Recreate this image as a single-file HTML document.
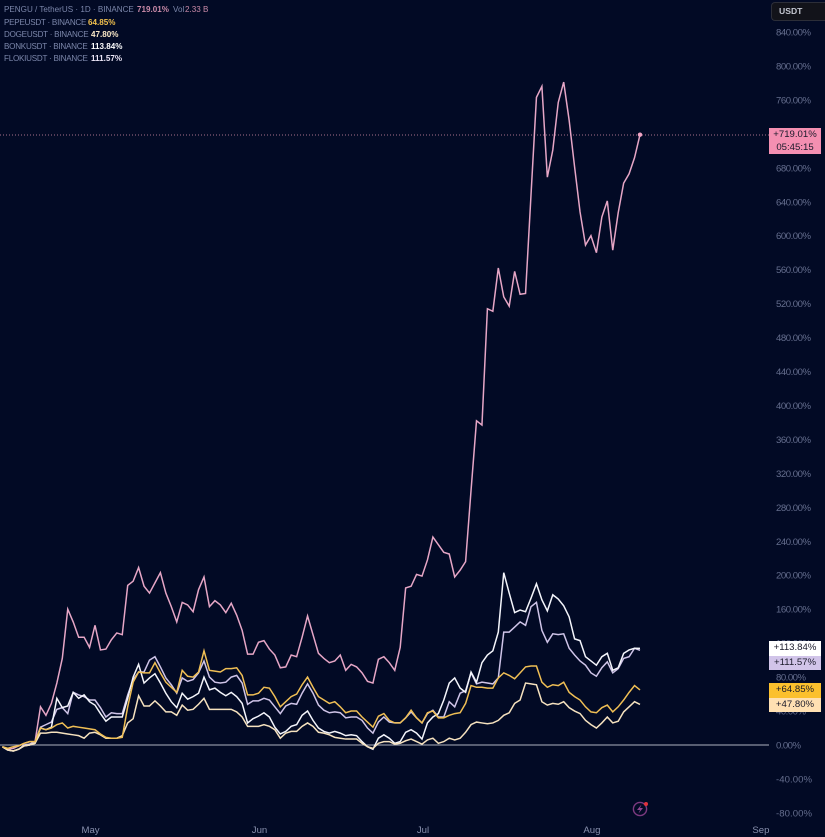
<!DOCTYPE html>
<html>
<head>
<meta charset="utf-8">
<title>PENGU comparison chart</title>
<style>
html,body{margin:0;padding:0;background:#020a25;}
#chart{position:relative;width:825px;height:837px;overflow:hidden;background:#020a25;font-family:"Liberation Sans",sans-serif;filter:blur(0.3px);}
svg{position:absolute;left:0;top:0;}
.lg{position:absolute;left:4px;font-size:8.1px;line-height:12px;height:12px;color:#7c87ab;white-space:nowrap;}
.lg.sub{letter-spacing:-0.25px;}
.lg b{position:absolute;top:0;font-weight:bold;letter-spacing:0;}
.tag{position:absolute;left:769px;width:52px;text-align:center;font-size:9.6px;color:#1a1a2a;line-height:14.5px;height:14.5px;}
#usdt{position:absolute;left:771px;top:2px;width:54px;height:19px;box-sizing:border-box;background:#12131a;border:1px solid #2c2e38;border-right:none;border-radius:4px 0 0 4px;color:#c4c7d2;font-size:8.6px;line-height:17px;padding-left:7px;font-weight:bold;}
</style>
</head>
<body>
<div id="chart">
  <svg id="plot" width="825" height="837" viewBox="0 0 825 837" xmlns="http://www.w3.org/2000/svg">
    <line x1="0" y1="745" x2="769" y2="745" stroke="#aeb1bf" stroke-width="1"></line>
    <line x1="0" y1="135" x2="769" y2="135" stroke="#a8708c" stroke-width="1" stroke-dasharray="1 2"></line>
    <g id="axis"></g>
    <g id="months"></g>
    <g id="series"></g>
    <g>
      <circle cx="640" cy="809" r="6.6" fill="none" stroke="#7d3a80" stroke-width="1.4"></circle>
      <polygon points="641.5,804.5 637,810 640,810 638.5,813.5 643,808 640,808" fill="#8d4590"></polygon>
      <circle cx="646" cy="804" r="2" fill="#e0323c"></circle>
    </g>
  </svg>

  <div class="lg" style="top:4px">PENGU / TetherUS · 1D · BINANCE<b style="left:133px;color:#c98aa8">719.01%</b><span style="position:absolute;left:169px;top:0;color:#7c87ab">Vol</span><b style="left:181px;color:#c98aa8;font-weight:normal">2.33 B</b></div>
  <div class="lg sub" style="top:17px">PEPEUSDT · BINANCE<b style="left:84px;color:#f2c14e">64.85%</b></div>
  <div class="lg sub" style="top:29px">DOGEUSDT · BINANCE<b style="left:87px;color:#fbe9c8">47.80%</b></div>
  <div class="lg sub" style="top:41px">BONKUSDT · BINANCE<b style="left:87px;color:#ffffff">113.84%</b></div>
  <div class="lg sub" style="top:53px">FLOKIUSDT · BINANCE<b style="left:87px;color:#ece6f7">111.57%</b></div>

  <div id="usdt">USDT</div>

  <div class="tag" style="top:128px;height:26px;background:#f48fb1;line-height:13px;padding-top:0">+719.01%<br>05:45:15</div>
  <div class="tag" style="top:641px;background:#ffffff">+113.84%</div>
  <div class="tag" style="top:655.5px;background:#d1c4e9">+111.57%</div>
  <div class="tag" style="top:683px;background:#fbc02d">+64.85%</div>
  <div class="tag" style="top:697.5px;background:#ffe0b2">+47.80%</div>
</div>

<script>
const tickValues = [840,800,760,720,680,640,600,560,520,480,440,400,360,320,280,240,200,160,120,80,40,0,-40,-80];
const monthLabels = ["May","Jun","Jul","Aug","Sep"];
const monthDayIndex = [16,47,77,108,139];

const penguValues = [-2,-5,-4,-1,2,4,4,45,35,49,73,102,160,145,127,127,115,141,112,113,124,132,130,188,193,209,187,179,191,203,179,163,145,168,165,157,183,198,163,170,165,156,167,153,135,107,107,121,123,113,106,91,92,106,104,127,152,130,108,102,97,99,106,88,95,92,85,75,73,101,104,97,88,115,185,187,201,199,218,245,236,227,225,198,206,216,300,382,377,514,511,562,528,517,558,531,532,648,763,776,669,701,757,781,736,681,628,589,600,580,622,641,583,627,662,673,692,719.01];
const pepeValues = [-2,-4,-2,-1,2,4,4,20,18,20,24,26,20,22,21,20,19,18,13,9,8,8,9,45,74,86,85,85,97,85,74,68,62,88,81,80,86,111,88,87,86,90,90,91,82,59,59,61,68,67,57,45,51,57,60,71,80,68,57,53,49,51,45,38,40,40,33,27,21,34,37,29,26,26,32,41,32,26,38,40,32,32,35,37,38,49,70,68,68,67,67,79,85,82,78,85,92,93,93,74,68,71,70,74,62,57,53,45,39,38,44,47,39,45,53,62,70,64.85];
const dogeValues = [-2,-6,-7,-5,-1,0,2,14,14,15,15,14,13,12,11,8,14,15,12,8,8,8,11,26,31,58,46,46,52,46,39,39,35,47,41,42,48,55,42,42,42,42,42,39,33,22,22,22,24,22,18,8,14,16,16,22,26,22,15,14,12,9,8,7,7,7,2,-2,-4,2,4,4,1,2,5,7,4,1,6,8,2,4,8,6,8,15,24,27,26,25,26,29,35,38,49,53,73,72,71,51,47,49,48,51,44,40,37,29,24,20,26,33,26,28,39,45,51,47.8];
const bonkValues = [-2,-6,-7,-5,-1,0,2,20,18,21,55,44,46,62,55,59,51,47,37,28,33,33,33,55,80,95,73,79,84,73,61,51,44,61,54,57,61,80,65,67,62,58,62,57,49,26,31,34,38,33,21,13,16,22,24,35,40,29,20,16,14,16,14,11,12,11,4,-2,-5,8,12,8,2,4,15,18,14,7,26,33,37,53,73,79,67,62,86,74,97,106,111,133,203,179,156,159,157,173,190,171,158,177,172,164,151,125,123,104,99,94,104,108,88,91,108,112,114,113.84];
const flokiValues = [-2,-6,-7,-5,0,1,4,21,24,27,42,44,37,62,59,57,53,53,44,33,38,37,37,59,77,86,86,100,104,92,79,71,61,79,75,77,85,99,80,74,73,74,80,82,73,48,52,52,55,53,45,37,46,49,48,61,72,61,47,41,38,39,38,32,33,33,29,20,14,27,33,27,26,26,32,39,32,26,37,41,33,33,51,45,61,64,85,72,74,73,72,79,133,133,139,145,141,163,168,135,121,131,130,131,114,106,99,94,85,81,91,98,85,90,102,104,114,111.57];

const SVGNS = "http://www.w3.org/2000/svg";
const zeroY = 745, pxPerPct = 0.8488, firstX = 2.35, pxPerDay = 5.45;
function yScale(v){ return zeroY - v * pxPerPct; }
function xScale(i){ return firstX + i * pxPerDay; }

function linePoints(values){
  return values.map(function(v,i){ return xScale(i).toFixed(2)+","+yScale(v).toFixed(2); }).join(" ");
}

const axisGroup = document.getElementById("axis");
tickValues.forEach(function(t){
  const el = document.createElementNS(SVGNS,"text");
  
  
  el.setAttribute("x", 776);
  el.setAttribute("y", yScale(t) + 3.5);
  el.setAttribute("fill", "#656e8e");
  el.setAttribute("font-size", "9.6");
  el.setAttribute("font-family", '"Liberation Sans", sans-serif');
  el.setAttribute("textLength", t < 0 ? 36 : (Math.abs(t) >= 100 ? 35 : (t === 0 ? 25 : 30)));
  el.textContent = t.toFixed(2) + "%";
  axisGroup.appendChild(el);
});

const monthGroup = document.getElementById("months");
monthLabels.forEach(function(m,k){
  const el = document.createElementNS(SVGNS,"text");
  
  
  el.setAttribute("x", xScale(monthDayIndex[k]) + 1);
  el.setAttribute("y", 833);
  el.setAttribute("text-anchor", "middle");
  el.setAttribute("fill", "#8890ad");
  el.setAttribute("font-size", "9.6");
  el.setAttribute("font-family", '"Liberation Sans", sans-serif');
  el.textContent = m;
  monthGroup.appendChild(el);
});

const seriesGroup = document.getElementById("series");
function addLine(values, color, name){
  const el = document.createElementNS(SVGNS,"polyline");
  
  
  el.setAttribute("points", linePoints(values));
  el.setAttribute("fill", "none");
  el.setAttribute("stroke", color);
  el.setAttribute("stroke-width", "1.5");
  el.setAttribute("stroke-linejoin", "miter");
  seriesGroup.appendChild(el);
}
addLine(penguValues, "#e6a6c6", "pengu-line");
addLine(flokiValues, "#cfc4e8", "floki-line");
addLine(bonkValues, "#f4f5fb", "bonk-line");
addLine(dogeValues, "#f6e2bf", "doge-line");
addLine(pepeValues, "#f0bf55", "pepe-line");

const lastDot = document.createElementNS(SVGNS,"circle");


lastDot.setAttribute("cx", xScale(penguValues.length - 1));
lastDot.setAttribute("cy", yScale(penguValues[penguValues.length - 1]));
lastDot.setAttribute("r", "2.2");
lastDot.setAttribute("fill", "#f0a4c4");
seriesGroup.appendChild(lastDot);
</script>
</body>
</html>
